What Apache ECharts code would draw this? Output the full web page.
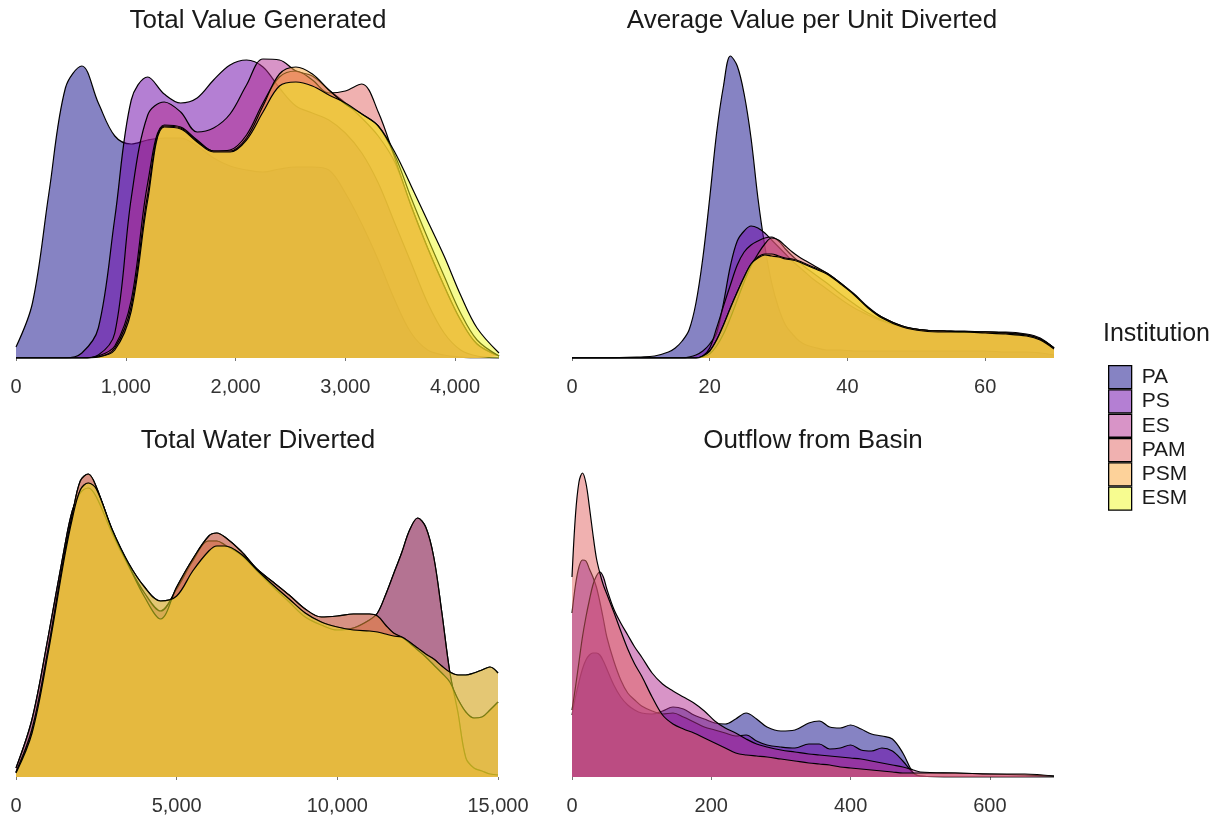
<!DOCTYPE html>
<html>
<head>
<meta charset="utf-8">
<script src="https://cdn.jsdelivr.net/npm/echarts@6/dist/echarts.min.js"></script>
<style>
html,body{margin:0;padding:0;background:#ffffff;}
#chart{width:1226px;height:824px;}
</style>
</head>
<body>
<div id="chart"></div>
<script>
// ---------- Labels ----------
const institutions = ['PA', 'PS', 'ES', 'PAM', 'PSM', 'ESM'];
const panelTitles = ['Total Value Generated', 'Average Value per Unit Diverted', 'Total Water Diverted', 'Outflow from Basin'];
const legendTitle = 'Institution';

// ---------- Panel 1: Total Value Generated (relative density) ----------
const tvgX   = [0,150,300,450,600,750,900,1050,1200,1350,1500,1650,1800,1950,2100,2250,2400,2550,2700,2850,3000,3150,3300,3450,3600,3750,3900,4050,4200,4400];
const tvgPA  = [11,55,165,270,292,255,222,214,218,220,220,212,200,192,188,186,189,191,191,188,165,134,98,58,25,8,3,1,0,0];
const tvgPS  = [0,0,0,0,5,30,140,258,281,264,255,260,278,293,298,291,270,252,245,238,225,205,175,135,95,55,25,8,2,0];
const tvgES  = [0,0,0,0,0,3,25,160,243,256,246,226,230,244,273,299,298,287,282,268,255,240,222,196,152,110,72,38,14,2];
const tvgPAM = [0,0,0,0,0,2,12,58,175,233,231,218,207,208,223,255,281,287,278,265,267,274,246,200,152,110,72,38,14,2];
const tvgPSM = [0,0,0,0,0,1,10,52,164,232,230,217,207,207,220,252,284,291,284,268,254,244,232,203,160,120,82,45,18,2];
const tvgESM = [0,0,0,0,0,1,8,47,158,231,229,216,206,206,218,246,272,276,272,263,255,244,232,206,172,137,102,63,30,5];

// ---------- Panel 2: Average Value per Unit Diverted ----------
const avgX   = [0,5,10,12,14,15,16,17,18,19,20,21,22,23,24,25,26,27,28,29,30,31,32,33,34,35,37,39,41,43,45,48,51,54,57,60,63,66,68,70];
const avgPA  = [0,0,1,2,6,10,17,28,55,100,160,225,272,302,292,264,220,160,112,75,50,33,24,17,13,11,8,8,7,7,7,7,7,7,7,7,6,6,5,3];
const avgPS  = [0,0,0,0,0,0,0,1,3,7,14,25,55,92,117,127,132,130,125,118,111,104,97,91,85,79,69,59,50,43,37,31,28,27,27,26,26,24,20,10];
const avgES  = [0,0,0,0,0,0,0,0,0,2,10,30,52,73,93,106,113,117,120,121,117,109,102,96,90,85,75,64,54,45,38,31,28,27,26,26,25,23,19,10];
const avgPAM = [0,0,0,0,0,0,0,0,0,1,4,12,24,40,58,76,92,104,114,120,118,112,106,101,97,93,85,75,63,50,41,32,28,27,26,26,25,23,19,10];
const avgPSM = [0,0,0,0,0,0,0,0,0,2,7,18,33,50,66,81,94,101,104,104,102,100,99,97,94,91,85,75,64,51,41,32,28,27,26,26,25,23,19,10];
const avgESM = [0,0,0,0,0,0,0,0,0,2,7,18,33,50,66,81,94,100,103,102,101,99,98,96,93,90,84,74,63,50,40,31,27,26,26,25,24,22,18,9];

// ---------- Panel 3: Total Water Diverted ----------
const waterX   = [0,500,1000,1500,1750,2000,2250,2500,3000,3500,4000,4500,5000,5500,6000,6250,6500,7000,7500,8000,8500,9000,9500,10000,10500,11000,11250,11500,11750,12000,12250,12500,12750,13000,13250,13500,13750,14000,14250,14500,14750,15000];
const waterPA  = [9,58,140,228,266,284,289,280,243,211,184,166,188,216,236,236,232,222,206,190,175,160,152,147,149,157,164,182,203,224,247,259,250,220,165,105,65,19,9,6,3,2];
const waterPS  = [5,48,128,222,262,296,303,290,246,212,180,158,190,218,241,244,240,226,208,195,182,168,160,161,163,163,161,152,144,140,134,127,120,112,104,95,78,65,59,60,67,75];
const waterES  = [4,44,124,218,258,287,294,288,247,214,190,176,181,206,226,231,231,223,207,192,178,164,155,150,147,146,145,143,141,140,135,129,123,118,111,105,102,102,104,107,110,104];
const waterPAM = [9,58,140,228,266,284,289,280,243,211,184,166,188,216,236,236,232,222,206,190,175,160,152,147,149,157,164,182,203,224,247,259,250,220,165,105,65,19,9,6,3,2];
const waterPSM = [5,48,128,222,262,296,303,290,246,212,180,158,190,218,241,244,240,226,208,195,182,168,160,161,163,163,161,152,144,140,134,127,120,112,104,95,78,65,59,60,67,75];
const waterESM = [4,44,124,218,258,287,294,288,247,214,190,176,181,206,226,231,231,223,207,192,178,164,155,150,147,146,145,143,141,140,135,129,123,118,111,105,102,102,104,107,110,104];

// ---------- Panel 4: Outflow from Basin (PSM / ESM have no density drawn) ----------
const outX   = [0,5,10,15,20,25,30,35,40,45,50,60,70,80,90,100,115,130,145,160,175,190,205,220,235,250,265,280,300,320,340,355,370,385,400,415,430,445,460,475,490,500,550,600,650,692];
const outPA  = [62,80,95,108,117,122,124,124,122,116,108,92,80,72,67,64,63,66,70,68,62,58,54,53,58,64,58,50,46,47,54,56,50,49,52,48,43,41,38,24,4,1,0,0,0,0];
const outPS  = [164,192,210,217,216,208,200,190,175,158,140,116,97,84,77,71,66,63,64,60,55,50,47,44,41,42,36,32,30,29,33,33,28,29,32,27,26,29,26,16,4,1,0,0,0,0];
const outES  = [67,90,115,140,160,177,192,201,205,200,188,168,154,142,130,120,104,93,86,80,74,66,56,49,44,38,33,30,27,25,23,22,21,20,19,18,16,14,12,10,7,5,4,3,2,1];
const outPAM = [200,262,295,304,294,270,243,219,204,192,183,165,146,128,113,101,80,62,53,48,44,39,34,29,24,22,21,20,18,16,14,13,12,10,9,8,7,6,5,4,4,4,4,3,3,1];

// ---------- Axis settings ----------
const axisMax = [4400, 70, 15000, 692];
const axisInterval = [1000, 20, 5000, 200];

// ---------- Styling ----------
const FONT = '"Liberation Sans", Arial, Helvetica, sans-serif';
const fills = ['rgba(13,8,135,0.5)', 'rgba(106,0,168,0.5)', 'rgba(177,42,144,0.5)',
               'rgba(225,100,98,0.5)', 'rgba(252,166,54,0.5)', 'rgba(240,249,33,0.5)'];

const panels = [
  { x: tvgX,   ys: [tvgPA, tvgPS, tvgES, tvgPAM, tvgPSM, tvgESM] },
  { x: avgX,   ys: [avgPA, avgPS, avgES, avgPAM, avgPSM, avgESM] },
  { x: waterX, ys: [waterPA, waterPS, waterES, waterPAM, waterPSM, waterESM] },
  { x: outX,   ys: [outPA, outPS, outES, outPAM, null, null] }
];

const gridBoxes = [
  { left: 16,  top: 38,  width: 483, height: 320 },
  { left: 572, top: 38,  width: 482, height: 320 },
  { left: 16,  top: 457, width: 482, height: 320 },
  { left: 572, top: 457, width: 482, height: 320 }
];
const titlePos = [[258, 8], [812, 8], [258, 428], [813, 428]];

const series = [];
panels.forEach((p, pi) => {
  p.ys.forEach((ys, si) => {
    if (!ys) return;
    series.push({
      type: 'line',
      name: institutions[si],
      xAxisIndex: pi,
      yAxisIndex: pi,
      z: 2 + si,
      data: p.x.map((x, i) => [x, ys[i]]),
      smooth: 0.35,
      symbol: 'none',
      showSymbol: false,
      lineStyle: { color: '#000', width: 1.2 },
      itemStyle: { color: fills[si] },
      areaStyle: { color: fills[si], opacity: 1 },
      emphasis: { disabled: true },
      silent: true,
      animation: false
    });
  });
});

const option = {
  backgroundColor: '#ffffff',
  animation: false,
  title: titlePos.map((pos, i) => ({
    text: panelTitles[i],
    left: pos[0], top: pos[1], textAlign: 'center', padding: 0,
    textStyle: { fontFamily: FONT, fontSize: 26, fontWeight: 'normal', color: '#1a1a1a' }
  })).concat([{
    text: legendTitle, left: 1103, top: 322, padding: 0,
    textStyle: { fontFamily: FONT, fontSize: 25, fontWeight: 'normal', color: '#1a1a1a' }
  }]),
  legend: {
    orient: 'vertical',
    left: 1103, top: 360,
    itemWidth: 23, itemHeight: 23, itemGap: 0,
    selectedMode: false,
    icon: 'rect',
    textStyle: { fontFamily: FONT, fontSize: 21, color: '#1a1a1a', lineHeight: 23, padding: [0, 0, 0, 5] },
    data: institutions.map((n, i) => ({
      name: n, icon: 'rect',
      itemStyle: { color: fills[i], borderColor: '#000', borderWidth: 1.3 }
    }))
  },
  grid: gridBoxes.map(g => Object.assign({ containLabel: false }, g)),
  xAxis: gridBoxes.map((g, i) => ({
    type: 'value', gridIndex: i, min: 0, max: axisMax[i], interval: axisInterval[i],
    offset: 14,
    axisLine: { show: false },
    axisTick: { show: true, length: 3, lineStyle: { color: '#777', width: 1 } },
    splitLine: { show: false },
    axisLabel: { fontFamily: FONT, fontSize: 20, color: '#333', margin: 5, showMaxLabel: i === 2 }
  })),
  yAxis: gridBoxes.map((g, i) => ({
    type: 'value', gridIndex: i, min: 0, max: 320, show: false
  })),
  series: series
};

const chart = echarts.init(document.getElementById('chart'), null, { renderer: 'canvas' });
chart.setOption(option);
</script>
</body>
</html>
